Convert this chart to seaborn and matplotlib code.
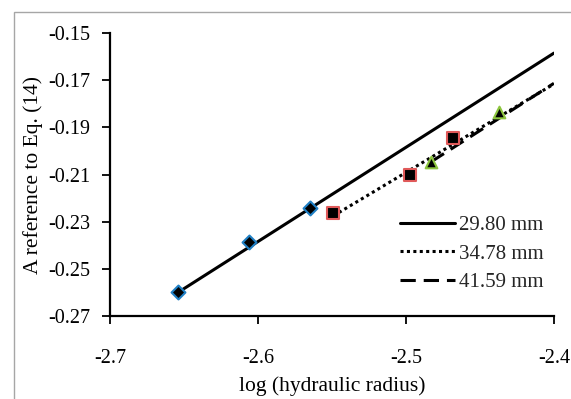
import matplotlib
matplotlib.use("Agg")
import matplotlib.pyplot as plt
import seaborn as sns
from matplotlib.patches import Rectangle

# Data
d1_x = [-2.654, -2.606, -2.565]
d1_y = [-0.260, -0.2388, -0.2240]
d2_x = [-2.549, -2.497, -2.468]
d2_y = [-0.2265, -0.2102, -0.1947]
d3_x = [-2.483, -2.437]
d3_y = [-0.2046, -0.1836]

# trendline ends
t1_x = [-2.654, -2.400]
t1_y = [-0.2600, -0.1585]
t2_x = [-2.549, -2.400]
t2_y = [-0.2275, -0.1716]
t3_x = [-2.483, -2.400]
t3_y = [-0.2046, -0.1713]

labels = ["29.80 mm", "34.78 mm", "41.59 mm"]

sns.set_theme(style="ticks")
plt.rcParams['font.family'] = ['Liberation Serif', 'DejaVu Serif']

fig = plt.figure(figsize=(5.71, 3.99), dpi=100)
ax = fig.add_axes([0.1926, 0.208, 0.7774, 0.709])

# outer chart frame (right and bottom run off the image)
fig.patches.append(Rectangle((14 / 571, -0.05), 1.2, 1 - 12.5 / 399 + 0.05,
                             transform=fig.transFigure, fill=False,
                             edgecolor="#a6a6a6", linewidth=1.0))

sns.lineplot(x=t1_x, y=t1_y, ax=ax, color="black", lw=2.2, linestyle="-", label=labels[0])
sns.lineplot(x=t2_x, y=t2_y, ax=ax, color="black", lw=2.2, linestyle=(0, (1, 1.1)), label=labels[1])
sns.lineplot(x=t3_x, y=t3_y, ax=ax, color="black", lw=2.2, linestyle=(0, (5, 2.6)), label=labels[2])

sns.scatterplot(x=d1_x, y=d1_y, ax=ax, marker="D", s=50, color="black",
                edgecolor="#1f7fc4", linewidth=1.5, zorder=5)
sns.scatterplot(x=d2_x, y=d2_y, ax=ax, marker="s", s=85, color="black",
                edgecolor="#e05a5a", linewidth=1.5, zorder=5)
sns.scatterplot(x=d3_x, y=d3_y, ax=ax, marker="^", s=70, color="black",
                edgecolor="#8dc63f", linewidth=1.5, zorder=5)

ax.set_xlim(-2.7, -2.4)
ax.set_ylim(-0.27, -0.15)
ax.set_xticks([-2.7, -2.6, -2.5, -2.4])
ax.set_xticklabels(["-2.7", "-2.6", "-2.5", "-2.4"])
ax.set_yticks([-0.27, -0.25, -0.23, -0.21, -0.19, -0.17, -0.15])
ax.set_yticklabels(["-0.27", "-0.25", "-0.23", "-0.21", "-0.19", "-0.17", "-0.15"])
ax.tick_params(axis="both", labelsize=14.5, length=6, width=1.3, color="black",
               labelcolor="black", direction="out")
ax.tick_params(axis="y", pad=8)
ax.tick_params(axis="x", pad=18)

sns.despine(ax=ax)
for s in ["left", "bottom"]:
    ax.spines[s].set_color("black")
    ax.spines[s].set_linewidth(1.6)

ax.set_xlabel("log (hydraulic radius)", fontsize=15.5, color="black", labelpad=6)
ax.set_ylabel("A reference to Eq. (14)", fontsize=15.5, color="black", labelpad=4)

leg = ax.legend(loc="center left", bbox_to_anchor=(390 / 571, 1 - 254 / 399),
                bbox_transform=fig.transFigure, frameon=False, borderpad=0,
                fontsize=15, handlelength=2.6, handletextpad=0.2, labelspacing=0.42)

fig.savefig("out.png", dpi=100)
